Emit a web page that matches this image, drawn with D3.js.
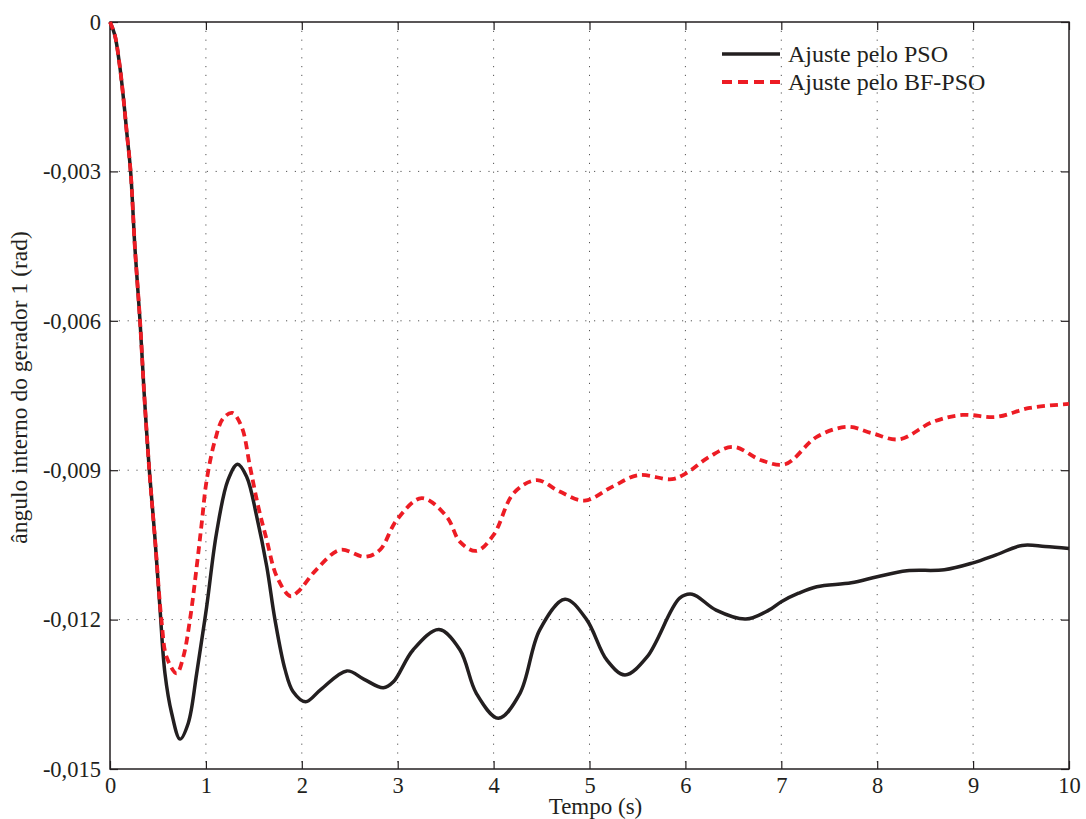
<!DOCTYPE html>
<html>
<head>
<meta charset="utf-8">
<script src="https://cdn.jsdelivr.net/npm/d3@7"></script>
<style>
  html, body { margin: 0; padding: 0; background: #fff; }
  svg { display: block; }
  text { font-family: "Liberation Serif", "Times New Roman", serif; fill: #231f20; }
</style>
</head>
<body>
<svg id="chart" width="1086" height="819"></svg>
<script>
// Internal angle of generator 1 (rad) versus time (s), two tuning methods
const xTicks = [0, 1, 2, 3, 4, 5, 6, 7, 8, 9, 10];
const yTicks = [0, -0.003, -0.006, -0.009, -0.012, -0.015];
const seriesNames = ["Ajuste pelo PSO", "Ajuste pelo BF-PSO"];

// [tempo (s), ângulo (rad)]
const psoData = [
  [0, 0], [0.05, -0.00026], [0.10, -0.00086], [0.14, -0.00153], [0.174, -0.0022],
  [0.215, -0.0030], [0.26, -0.00454], [0.313, -0.0060], [0.355, -0.00742], [0.41, -0.0090],
  [0.47, -0.0104], [0.52, -0.01174], [0.573, -0.01308], [0.643, -0.01388], [0.73, -0.0144],
  [0.816, -0.01408], [0.904, -0.01308], [1.008, -0.01174], [1.11, -0.01027], [1.23, -0.0092],
  [1.33, -0.00888], [1.425, -0.00913], [1.53, -0.00993], [1.635, -0.01094], [1.72, -0.0120],
  [1.825, -0.0130], [1.91, -0.01345], [2.04, -0.01365], [2.2, -0.0134], [2.47, -0.01303],
  [2.65, -0.0132], [2.85, -0.01337], [2.955, -0.01325], [3.16, -0.01261], [3.43, -0.0122],
  [3.65, -0.01261], [3.82, -0.01348], [4.05, -0.01398], [4.275, -0.01348], [4.48, -0.01221],
  [4.745, -0.01159], [4.97, -0.0120], [5.18, -0.01281], [5.37, -0.01311], [5.6, -0.01275],
  [5.94, -0.01157], [6.07, -0.01149], [6.32, -0.01181], [6.63, -0.01199], [6.87, -0.01181],
  [7.0, -0.01164], [7.18, -0.01147], [7.37, -0.01134], [7.73, -0.01126], [8.0, -0.01114],
  [8.31, -0.01102], [8.7, -0.0110], [9.0, -0.01086], [9.24, -0.0107], [9.51, -0.01051],
  [9.75, -0.01053], [10, -0.01057]
];

const bfpsoData = [
  [0, 0], [0.05, -0.00026], [0.10, -0.00086], [0.14, -0.00153], [0.174, -0.0022],
  [0.215, -0.0030], [0.26, -0.00454], [0.313, -0.0060], [0.355, -0.00742], [0.41, -0.0090],
  [0.47, -0.0104], [0.54, -0.01208], [0.59, -0.01275], [0.695, -0.01308], [0.764, -0.01275],
  [0.834, -0.0120], [0.904, -0.01094], [0.956, -0.01007], [1.008, -0.0092], [1.095, -0.0084],
  [1.18, -0.00796], [1.275, -0.00785], [1.373, -0.00813], [1.46, -0.00893], [1.546, -0.00973],
  [1.634, -0.0104], [1.74, -0.01114], [1.88, -0.01153], [1.96, -0.01144], [2.15, -0.0110],
  [2.40, -0.0106], [2.66, -0.01074], [2.815, -0.0106], [2.99, -0.0100], [3.25, -0.00956],
  [3.51, -0.00993], [3.65, -0.01044], [3.82, -0.01062], [4.0, -0.0103], [4.21, -0.00946],
  [4.45, -0.0092], [4.69, -0.00943], [4.95, -0.00961], [5.24, -0.00933], [5.51, -0.0091],
  [5.86, -0.00918], [6.01, -0.00906], [6.25, -0.00873], [6.5, -0.00853], [6.79, -0.0088],
  [7.04, -0.00888], [7.37, -0.00833], [7.69, -0.00813], [7.95, -0.00826], [8.23, -0.00838],
  [8.58, -0.00803], [8.89, -0.00789], [9.24, -0.00793], [9.59, -0.00775], [10, -0.00767]
];

const width = 1086, height = 819;
const margin = { top: 22, right: 17, bottom: 50, left: 110 };
const plotW = width - margin.left - margin.right;
const plotH = height - margin.top - margin.bottom;

const svg = d3.select("#chart");
const g = svg.append("g").attr("transform", `translate(${margin.left},${margin.top})`);

const x = d3.scaleLinear().domain([0, 10]).range([0, plotW]);
const y = d3.scaleLinear().domain([-0.015, 0]).range([plotH, 0]);

const fmtY = v => v === 0 ? "0" : d3.format(".3f")(v).replace(".", ",").replace("−", "-");

// dotted grid
const grid = g.append("g").attr("class", "grid");
grid.selectAll("line.gx").data(xTicks.slice(1, -1)).join("line")
  .attr("x1", d => x(d)).attr("x2", d => x(d)).attr("y1", 0).attr("y2", plotH)
  .attr("stroke", "#555").attr("stroke-width", 1).attr("stroke-dasharray", "1.2,7.6");
grid.selectAll("line.gy").data(yTicks.slice(1, -1)).join("line")
  .attr("x1", 0).attr("x2", plotW).attr("y1", d => y(d)).attr("y2", d => y(d))
  .attr("stroke", "#555").attr("stroke-width", 1).attr("stroke-dasharray", "1.2,7.6");

// axes with inward ticks
const axisBottom = d3.axisBottom(x).tickValues(xTicks).tickSize(-8).tickPadding(8).tickFormat(d3.format("d"));
const axisLeft = d3.axisLeft(y).tickValues(yTicks).tickSize(-8).tickPadding(9).tickFormat(fmtY);
const axisTop = d3.axisTop(x).tickValues(xTicks).tickSize(-8).tickFormat("");
const axisRight = d3.axisRight(y).tickValues(yTicks).tickSize(-8).tickFormat("");

function styleAxis(sel) {
  sel.attr("font-family", null).attr("font-size", null);
  sel.select(".domain").remove();
  sel.selectAll(".tick line").attr("stroke", "#231f20").attr("stroke-width", 1.2);
  sel.selectAll(".tick text").style("font-size", "22.5px").attr("fill", "#231f20");
}

g.append("g").attr("transform", `translate(0,${plotH})`).call(axisBottom).call(styleAxis);
g.append("g").call(axisLeft).call(styleAxis);
g.append("g").call(axisTop).call(styleAxis);
g.append("g").attr("transform", `translate(${plotW},0)`).call(axisRight).call(styleAxis);

// plot box
g.append("rect").attr("x", 0).attr("y", 0).attr("width", plotW).attr("height", plotH)
  .attr("fill", "none").attr("stroke", "#231f20").attr("stroke-width", 1.5);

// curves
const line = d3.line().x(d => x(d[0])).y(d => y(d[1])).curve(d3.curveCatmullRom.alpha(0.5));

g.append("path").datum(psoData).attr("d", line)
  .attr("fill", "none").attr("stroke", "#231f20").attr("stroke-width", 3.5)
  .attr("stroke-linejoin", "round");
g.append("path").datum(bfpsoData).attr("d", line)
  .attr("fill", "none").attr("stroke", "#ed1c24").attr("stroke-width", 3.8)
  .attr("stroke-dasharray", "8,5");

// legend
const legend = g.append("g").attr("transform", `translate(${722 - margin.left},${54 - margin.top})`);
const legendStyles = [
  { color: "#231f20", dash: null, w: 3.5 },
  { color: "#ed1c24", dash: "10,6", w: 3.8 }
];
seriesNames.forEach((name, i) => {
  const row = legend.append("g").attr("transform", `translate(0,${i * 28})`);
  row.append("line").attr("x1", 0).attr("x2", 58).attr("y1", 0).attr("y2", 0)
    .attr("stroke", legendStyles[i].color).attr("stroke-width", legendStyles[i].w)
    .attr("stroke-dasharray", legendStyles[i].dash);
  row.append("text").attr("x", 66).attr("y", 8).style("font-size", "24px").text(name);
});

// axis titles
svg.append("text").attr("x", margin.left + plotW / 2 + 6).attr("y", 814)
  .attr("text-anchor", "middle").style("font-size", "23px").text("Tempo (s)");
svg.append("text").attr("transform", `translate(27,${margin.top + plotH / 2 - 8}) rotate(-90)`)
  .attr("text-anchor", "middle").style("font-size", "23.5px").text("ângulo interno do gerador 1 (rad)");
</script>
</body>
</html>
